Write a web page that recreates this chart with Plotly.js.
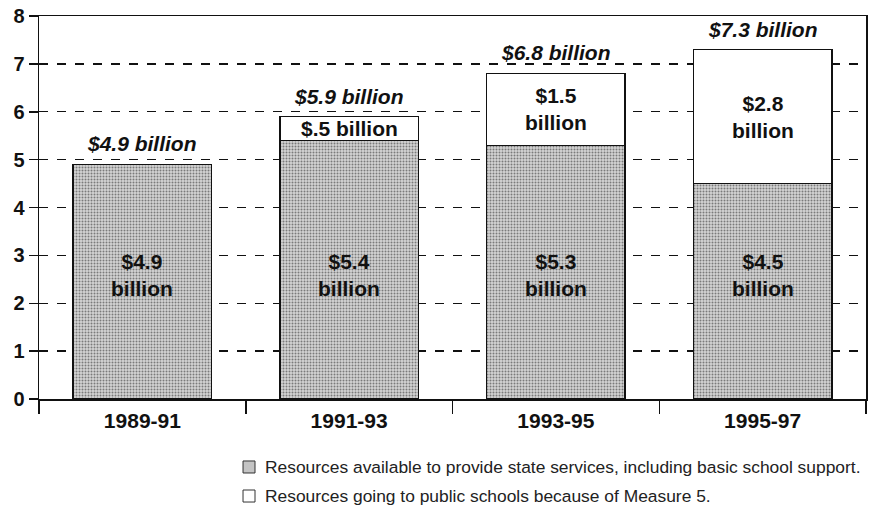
<!DOCTYPE html>
<html>
<head>
<meta charset="utf-8">
<script src="https://cdn.plot.ly/plotly-3.0.1.min.js"></script>
<style>html,body{margin:0;padding:0;background:#fff;}#chart{width:869px;height:516px;}</style>
</head>
<body>
<div id="chart"></div>
<script>
var periods = ["1989-91", "1991-93", "1993-95", "1995-97"];
var stateServices = [4.9, 5.4, 5.3, 4.5];
var measure5 = [0, 0.5, 1.5, 2.8];
var totals = [4.9, 5.9, 6.8, 7.3];
var totalLabels = ["$4.9 billion", "$5.9 billion", "$6.8 billion", "$7.3 billion"];
var baseLabels = ["$4.9<br>billion", "$5.4<br>billion", "$5.3<br>billion", "$4.5<br>billion"];
var topLabels = ["", "$.5 billion", "$1.5<br>billion", "$2.8<br>billion"];
var yTicks = [0, 1, 2, 3, 4, 5, 6, 7, 8];
var legendNames = ["Resources available to provide state services, including basic school support.",
                   "Resources going to public schools because of Measure 5."];
var legendColors = ["#c4c4c4", "#ffffff"];

var FONT = "Liberation Sans, Arial, Helvetica, sans-serif";

var traces = [
  {
    type: "bar", x: periods, y: stateServices, name: legendNames[0],
    marker: {color: "#cfcfcf", line: {color: "#111", width: 1.5},
             pattern: {shape: ".", fgcolor: "#7a7a7a", bgcolor: "#d4d4d4", size: 3, solidity: 0.35}},
    hoverinfo: "skip"
  },
  {
    type: "bar", x: periods, y: measure5, name: legendNames[1],
    marker: {color: "#ffffff", line: {color: "#111", width: 1.5}},
    hoverinfo: "skip"
  }
];

var annotations = [];
var shapes = [];
for (var i = 0; i < periods.length; i++) {
  annotations.push({x: periods[i], y: totals[i], xref: "x", yref: "y", text: "<b><i>" + totalLabels[i] + "</i></b>",
    showarrow: false, yanchor: "bottom", yshift: 7, font: {family: FONT, size: 21, color: "#111"}});
  annotations.push({x: periods[i], y: 2.6, xref: "x", yref: "y", text: "<b>" + baseLabels[i] + "</b>",
    showarrow: false, yanchor: "middle", font: {family: FONT, size: 21, color: "#111"}});
  if (measure5[i] > 0) {
    annotations.push({x: periods[i], y: stateServices[i] + measure5[i] / 2, xref: "x", yref: "y",
      text: "<b>" + topLabels[i] + "</b>", showarrow: false, yanchor: "middle",
      font: {family: FONT, size: 21, color: "#111"}});
  }
}

// custom legend (plot area: x 39..866, y 16..399)
var legRowY = [-0.1775, -0.2533];
for (var k = 0; k < legendNames.length; k++) {
  shapes.push({type: "rect", xref: "paper", yref: "paper", x0: 0.2467, x1: 0.2612,
    y0: legRowY[k] + 0.0157, y1: legRowY[k] - 0.0157,
    fillcolor: legendColors[k], line: {color: "#333", width: 1}});
  annotations.push({xref: "paper", yref: "paper", x: 0.2709, y: legRowY[k], xanchor: "left", yanchor: "middle",
    text: legendNames[k], showarrow: false, font: {family: FONT, size: 17.4, color: "#222"}});
}

var layout = {
  width: 869, height: 516,
  margin: {l: 39, r: 3, t: 16, b: 117, autoexpand: false},
  paper_bgcolor: "#fff", plot_bgcolor: "#fff",
  barmode: "stack", bargap: 0.33,
  font: {family: FONT, color: "#111"},
  showlegend: false,
  xaxis: {
    type: "category", showgrid: false, showline: true, linecolor: "#111", linewidth: 1.5,
    mirror: true, ticks: "outside", ticklen: 13, tickwidth: 1.5, tickcolor: "#111",
    tickson: "boundaries", tickangle: 0, ticklabelstandoff: 2,
    tickfont: {family: FONT, size: 21, color: "#111", weight: "bold"}
  },
  yaxis: {
    range: [0, 8], tickvals: yTicks, ticktext: yTicks.map(String),
    showgrid: true, gridcolor: "#111", griddash: "dash", gridwidth: 1.3,
    zeroline: false, showline: true, linecolor: "#111", linewidth: 1.5, mirror: true,
    ticks: "outside", ticklen: 9, tickwidth: 1.5, tickcolor: "#111",
    tickfont: {family: FONT, size: 20, color: "#111", weight: "bold"}
  },
  shapes: shapes,
  annotations: annotations
};

Plotly.newPlot("chart", traces, layout, {staticPlot: true, displayModeBar: false});
</script>
</body>
</html>
